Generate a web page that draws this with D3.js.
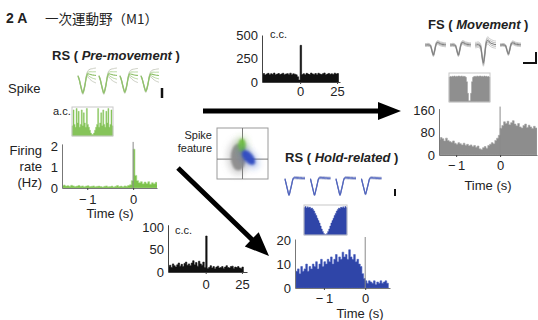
<!DOCTYPE html>
<html>
<head>
<meta charset="utf-8">
<script src="https://cdn.jsdelivr.net/npm/d3@7"></script>
<style>
  body { margin: 0; background: #fff; }
  svg { display: block; font-family: "Liberation Sans", Arial, sans-serif; }
</style>
</head>
<body>
<svg id="fig" width="538" height="320"></svg>
<script>
// ---- data ----
const binSec = 0.04;

// RS (pre-movement) PSTH, Hz, bins of 40 ms from -1.6 s
const premoveStart = -1.6;
const premoveRate = [
  0.12, 0.10, 0.14, 0.09, 0.11, 0.08, 0.13, 0.10, 0.07, 0.09,
  0.12, 0.08, 0.10, 0.06, 0.09, 0.11, 0.07, 0.08, 0.10, 0.06,
  0.08, 0.09, 0.07, 0.05, 0.08, 0.10, 0.06, 0.07, 0.09, 0.05,
  0.08, 0.12, 0.07, 0.09, 0.06, 0.10, 0.08, 0.12, 0.15, 0.35,
  1.85, 0.60, 0.35, 0.25, 0.30, 0.20, 0.28, 0.22, 0.30, 0.18,
  0.25, 0.20, 0.27, 0.15
];

// FS (movement) PSTH, bins of 40 ms from -1.4 s
const fsStart = -1.4;
const fsRate = [
  55, 62, 58, 50, 60, 52, 48, 45, 50, 42,
  38, 44, 40, 36, 42, 35, 38, 33, 36, 30,
  34, 28, 32, 22, 20, 26, 30, 24, 34, 38,
  44, 40, 52, 60, 70, 95, 105, 118, 112, 120,
  108, 115, 122, 110, 104, 112, 100, 96, 105, 110,
  98, 106, 100, 94, 102, 96
];

// RS (hold-related) PSTH, bins of 40 ms from -1.68 s
const holdStart = -1.68;
const holdRate = [
  7, 8, 6, 9, 7, 8, 10, 7, 9, 8,
  10, 9, 11, 8, 10, 12, 9, 11, 10, 12,
  11, 13, 10, 12, 14, 11, 13, 12, 15, 13,
  14, 12, 16, 13, 12, 14, 11, 12, 10, 9,
  6, 4, 3, 2, 3, 2.5, 2, 3, 1.5, 2.5,
  2, 3, 2, 2.5, 3, 2
];

// cross-correlograms, counts per 1 ms bin from -26 ms
const ccStart = -26;
const ccTopCounts = [
  80, 90, 75, 85, 92, 78, 88, 82, 95, 76, 84, 90, 79, 86, 93, 77, 85, 89, 81, 94, 78, 87, 83, 76, 55, 20,
  390, 80, 88, 76, 92, 84, 79, 95, 86, 81, 90, 77, 93, 85, 80, 88, 96, 78, 84, 91, 82, 87, 79, 94, 86, 90
];
const ccBottomCounts = [
  12, 15, 10, 18, 14, 11, 16, 20, 13, 17, 12, 19, 22, 15, 18, 14, 20, 25, 16, 21, 13, 24, 18, 15, 22, 10,
  80, 8, 10, 14, 9, 12, 7, 11, 13, 9, 10, 12, 8, 11, 14, 10, 9, 12, 13, 8, 11, 10, 12, 9, 8, 11
];

// auto-correlograms (normalised)
const acPremove = [
  0.35, 0.90, 0.40, 0.30, 0.95, 0.45, 0.85, 0.30, 0.40, 0.90,
  0.35, 0.80, 0.45, 0.30, 0.95, 0.40, 0.30, 0.20, 0.10, 0.05,
  0.05, 0.10, 0.20, 0.30, 0.40, 0.95, 0.30, 0.45, 0.80, 0.35,
  0.90, 0.40, 0.30, 0.85, 0.45, 0.95, 0.30, 0.40, 0.90, 0.35
];
const acFs = [
  0.86, 0.88, 0.87, 0.89, 0.88, 0.90, 0.87, 0.89, 0.88, 0.90,
  0.89, 0.88, 0.90, 0.87, 0.89, 0.88, 0.85, 0.70, 0.30, 0.04,
  0.04, 0.30, 0.70, 0.85, 0.88, 0.89, 0.87, 0.90, 0.88, 0.89,
  0.90, 0.88, 0.89, 0.87, 0.90, 0.88, 0.89, 0.87, 0.88, 0.86
];
const acHold = [
  0.92, 0.95, 0.90, 0.94, 0.91, 0.93, 0.88, 0.90, 0.85, 0.80,
  0.72, 0.65, 0.56, 0.48, 0.40, 0.30, 0.20, 0.12, 0.05, 0.02,
  0.02, 0.05, 0.12, 0.20, 0.30, 0.40, 0.48, 0.56, 0.65, 0.72,
  0.80, 0.85, 0.90, 0.88, 0.93, 0.91, 0.94, 0.90, 0.95, 0.92
];

// tetrode waveforms: mean shape, spread, and per-channel size
const wfPremoveMean = [0.0, -0.2, -0.5, -0.8, -1.0, -0.8, -0.45, -0.05, 0.12, 0.12, 0.10, 0.08, 0.06, 0.05, 0.04, 0.03];
const wfPremoveSpread = [0.04, 0.05, 0.06, 0.07, 0.08, 0.08, 0.08, 0.10, 0.16, 0.24, 0.30, 0.34, 0.37, 0.40, 0.42, 0.44];
const wfPremoveAmp = [1.0, 1.0, 0.95, 0.9];
const wfFsMean = [0.0, 0.0, 0.02, 0.0, -0.1, -0.6, -1.0, -0.5, 0.1, 0.25, 0.2, 0.12, 0.08, 0.05, 0.03, 0.02];
const wfFsSpread = [0.15, 0.15, 0.15, 0.15, 0.15, 0.15, 0.18, 0.18, 0.18, 0.2, 0.2, 0.2, 0.2, 0.2, 0.2, 0.2];
const wfFsAmp = [0.55, 0.55, 1.0, 0.5];
const wfHoldMean = [0.0, -0.35, -0.7, -1.0, -0.7, -0.35, 0.0, 0.08, 0.08, 0.07, 0.07, 0.06, 0.06, 0.05, 0.05, 0.05];
const wfHoldSpread = [0.05, 0.05, 0.05, 0.06, 0.06, 0.06, 0.06, 0.07, 0.07, 0.07, 0.07, 0.07, 0.07, 0.07, 0.07, 0.07];
const wfHoldAmp = [1.0, 1.0, 1.0, 0.95];

// spike feature clusters (feature space -1..1)
const clusterNames = ['other', 'premove', 'hold'];
const clusterX = [-0.16, -0.02, 0.24];
const clusterY = [-0.14, 0.33, -0.16];
const clusterRx = [0.30, 0.14, 0.34];
const clusterRy = [0.52, 0.26, 0.18];
const clusterAngle = [0, 0, 50];
const clusterColor = ['#8c8c8c', '#72c043', '#2f4cc2'];

// ticks
const timeTicks = [-1, 0];
const ccTicks = [0, 25];
const premoveYTicks = [0, 1, 2];
const fsYTicks = [0, 80, 160];
const holdYTicks = [0, 10, 20];
const ccTopYTicks = [0, 250, 500];
const ccBottomYTicks = [0, 50, 100];

// ---- drawing ----
const svg = d3.select('#fig');
const fmt = d => d < 0 ? '\u2212\u2009' + (-d) : String(d);
let clipId = 0;

function text(x, y, str, size, opts = {}) {
  return svg.append('text')
    .attr('x', x).attr('y', y)
    .attr('font-size', size)
    .attr('font-weight', opts.bold ? 'bold' : null)
    .attr('text-anchor', opts.anchor || 'start')
    .attr('fill', '#222')
    .text(str);
}

function title(x, y, name, italicPart) {
  const t = svg.append('text').attr('x', x).attr('y', y)
    .attr('font-size', 13).attr('font-weight', 'bold').attr('fill', '#222');
  t.append('tspan').text(name + ' ( ');
  t.append('tspan').attr('font-style', 'italic').text(italicPart);
  t.append('tspan').text(' )');
}

function hist(cfg) {
  const g = svg.append('g');
  const x = d3.scaleLinear().domain(cfg.xDomain).range(cfg.xRange);
  const y = d3.scaleLinear().domain(cfg.yDomain).range(cfg.yRange);
  const pts = cfg.values.map((v, i) => [cfg.start + i * cfg.bin, v]);
  pts.push([cfg.start + cfg.values.length * cfg.bin, 0]);

  const id = 'clip' + (clipId++);
  svg.append('clipPath').attr('id', id).append('rect')
    .attr('x', cfg.xRange[0]).attr('y', cfg.yRange[1] - 5)
    .attr('width', cfg.xRange[1] - cfg.xRange[0])
    .attr('height', cfg.yRange[0] - cfg.yRange[1] + 5);

  const area = d3.area().curve(d3.curveStepAfter)
    .x(d => x(d[0])).y0(y(0)).y1(d => y(d[1]));
  g.append('path').datum(pts)
    .attr('clip-path', `url(#${id})`)
    .attr('d', area)
    .attr('fill', cfg.color)
    .attr('stroke', cfg.edge || cfg.color)
    .attr('stroke-width', 0.6);

  if (cfg.marker) {
    g.append('line')
      .attr('x1', x(0)).attr('x2', x(0))
      .attr('y1', cfg.yRange[1] - 2).attr('y2', y(0))
      .attr('stroke', '#8a8a8a').attr('stroke-width', 1);
  }

  const xa = g.append('g').attr('transform', `translate(0,${y(0)})`)
    .call(d3.axisBottom(x).tickValues(cfg.xTicks).tickSize(2).tickSizeOuter(0)
      .tickPadding(cfg.xPad || 4).tickFormat(fmt));
  const ya = g.append('g').attr('transform', `translate(${cfg.xRange[0]},0)`)
    .call(d3.axisLeft(y).tickValues(cfg.yTicks).tickSize(0).tickSizeOuter(0)
      .tickPadding(4).tickFormat(fmt));
  [xa, ya].forEach(a => {
    a.select('.domain').attr('stroke', cfg.axisColor || '#444').attr('stroke-width', 1);
    a.selectAll('.tick line').attr('stroke', '#444');
    a.selectAll('text').attr('font-size', 13).attr('fill', '#222')
      .attr('font-family', '"Liberation Sans", Arial, sans-serif');
  });
  return { x, y };
}

function acBox(values, x0, y0, w, h, color) {
  const x = d3.scaleLinear().domain([0, values.length]).range([x0, x0 + w]);
  const y = d3.scaleLinear().domain([0, 1]).range([y0 + h, y0]);
  const pts = values.map((v, i) => [i, v]);
  pts.push([values.length, values[values.length - 1]]);
  svg.append('path').datum(pts)
    .attr('d', d3.area().curve(d3.curveStepAfter).x(d => x(d[0])).y0(y(0)).y1(d => y(d[1])))
    .attr('fill', color).attr('stroke', color).attr('stroke-width', 0.4);
  svg.append('rect').attr('x', x0).attr('y', y0).attr('width', w).attr('height', h)
    .attr('fill', 'none').attr('stroke', '#c8c8c8').attr('stroke-width', 1);
}

function waves(mean, spread, amps, x0, pitch, w, baseY, ampPx, colors, curve) {
  const ks = [-1, 1, -0.5, 0.5, 0];
  amps.forEach((a, c) => {
    const x = d3.scaleLinear().domain([0, mean.length - 1]).range([x0 + c * pitch, x0 + c * pitch + w]);
    const y = d3.scaleLinear().domain([-1, 0]).range([baseY + ampPx * a, baseY]);
    ks.forEach((k, j) => {
      const line = d3.line().curve(curve || d3.curveCatmullRom)
        .x((d, i) => x(i)).y((d, i) => y(d + k * spread[i]));
      svg.append('path').datum(mean)
        .attr('d', line).attr('fill', 'none')
        .attr('stroke', colors[Math.min(j >> 1, 2)])
        .attr('stroke-width', j === 4 ? 1.1 : 0.9);
    });
  });
}

function arrow(x1, y1, x2, y2, shaft, headLen, headHalf) {
  const dx = x2 - x1, dy = y2 - y1, L = Math.hypot(dx, dy);
  const ux = dx / L, uy = dy / L, nx = -uy, ny = ux;
  const bx = x2 - ux * headLen, by = y2 - uy * headLen;
  const s = shaft / 2;
  const p = [
    [x1 + nx * s, y1 + ny * s], [bx + nx * s, by + ny * s], [bx + nx * headHalf, by + ny * headHalf],
    [x2, y2],
    [bx - nx * headHalf, by - ny * headHalf], [bx - nx * s, by - ny * s], [x1 - nx * s, y1 - ny * s]
  ];
  svg.append('path').attr('d', d3.line()(p) + 'Z').attr('fill', '#000');
}

// headers
text(6, 23, '2 A', 14, { bold: true });
svg.append('text').attr('x', 45).attr('y', 24).attr('font-size', 13.5)
  .attr('font-family', '"Noto Sans CJK JP", sans-serif').attr('fill', '#222')
  .text('一次運動野（M1）');

// ---- RS pre-movement ----
title(52, 60, 'RS', 'Pre-movement');
text(8, 93, 'Spike', 13);
waves(wfPremoveMean, wfPremoveSpread, wfPremoveAmp, 78, 21, 18, 76, 17,
  ['#c4c7ba', '#aed293', '#8fc06a']);
svg.append('line').attr('x1', 162).attr('x2', 162).attr('y1', 88).attr('y2', 98)
  .attr('stroke', '#111').attr('stroke-width', 2.5);
text(53, 115, 'a.c.', 11);
acBox(acPremove, 72, 107, 41, 29, '#86c45a');
text(42, 155, 'Firing', 13, { anchor: 'end' });
text(42, 171, 'rate', 13, { anchor: 'end' });
text(42, 187, '(Hz)', 13, { anchor: 'end' });
hist({
  values: premoveRate, start: premoveStart, bin: binSec,
  xDomain: [-1.55, 0.52], xRange: [62, 157],
  yDomain: [0, 2.1], yRange: [188, 143.9],
  xTicks: timeTicks, yTicks: premoveYTicks,
  color: '#7cc24a', edge: '#a8d98a', marker: true, axisColor: '#777', xPad: 5
});
text(110, 218, 'Time (s)', 13, { anchor: 'middle' });

// ---- top cross-correlogram ----
hist({
  values: ccTopCounts, start: ccStart, bin: 1,
  xDomain: [-25.8, 27], xRange: [262, 340],
  yDomain: [0, 500], yRange: [82, 35],
  xTicks: ccTicks, yTicks: ccTopYTicks,
  color: '#111', xPad: 3
});
text(270, 38, 'c.c.', 11);

// ---- arrows ----
arrow(203, 111, 401, 111, 5, 23, 9);
arrow(178, 168, 269, 256, 5, 24, 10);

// ---- spike feature ----
text(212, 139, 'Spike', 11, { anchor: 'end' });
text(212, 152, 'feature', 11, { anchor: 'end' });
const fx = d3.scaleLinear().domain([-1, 1]).range([217, 268]);
const fy = d3.scaleLinear().domain([-1, 1]).range([179, 128]);
const blur = svg.append('filter').attr('id', 'blur').attr('x', '-50%').attr('y', '-50%')
  .attr('width', '200%').attr('height', '200%');
blur.append('feGaussianBlur').attr('stdDeviation', 1.3);
const halo = svg.append('filter').attr('id', 'halo').attr('x', '-50%').attr('y', '-50%')
  .attr('width', '200%').attr('height', '200%');
halo.append('feGaussianBlur').attr('stdDeviation', 3);
svg.append('rect').attr('x', fx(-1)).attr('y', fy(1))
  .attr('width', fx(1) - fx(-1)).attr('height', fy(-1) - fy(1))
  .attr('fill', '#fff').attr('stroke', '#9a9a9a').attr('stroke-width', 1);
svg.append('line').attr('x1', fx(0)).attr('x2', fx(0)).attr('y1', fy(1)).attr('y2', fy(-1))
  .attr('stroke', '#7a7a7a').attr('stroke-width', 1);
svg.append('line').attr('x1', fx(-1)).attr('x2', fx(1)).attr('y1', fy(-0.22)).attr('y2', fy(-0.22))
  .attr('stroke', '#7a7a7a').attr('stroke-width', 1);
clusterNames.forEach((n, i) => {
  const rx = fx(clusterRx[i]) - fx(0), ry = fy(0) - fy(clusterRy[i]);
  const tr = `translate(${fx(clusterX[i])},${fy(clusterY[i])}) rotate(${clusterAngle[i]})`;
  svg.append('ellipse').attr('transform', tr)
    .attr('rx', rx * 1.5).attr('ry', ry * 1.35)
    .attr('fill', clusterColor[i]).attr('fill-opacity', 0.35)
    .attr('filter', 'url(#halo)');
  svg.append('ellipse').attr('transform', tr)
    .attr('rx', rx).attr('ry', ry)
    .attr('fill', clusterColor[i]).attr('fill-opacity', 0.95)
    .attr('filter', 'url(#blur)');
});

// ---- RS hold-related ----
title(285, 162, 'RS', 'Hold-related');
waves(wfHoldMean, wfHoldSpread, wfHoldAmp, 285, 25.5, 20, 179, 16,
  ['#b4bad4', '#8e9ad0', '#4d62bd'], d3.curveMonotoneX);
svg.append('line').attr('x1', 395).attr('x2', 395).attr('y1', 189).attr('y2', 196)
  .attr('stroke', '#111').attr('stroke-width', 2);
acBox(acHold, 304, 205, 43, 30, '#2f45a8');
hist({
  values: holdRate, start: holdStart, bin: binSec,
  xDomain: [-1.7, 0.6], xRange: [295, 390],
  yDomain: [0, 20.5], yRange: [288, 239],
  xTicks: timeTicks, yTicks: holdYTicks,
  color: '#2f45a8', edge: '#4a5fbf', marker: true, axisColor: '#777', xPad: 4
});
text(360, 318, 'Time (s)', 13, { anchor: 'middle' });

// ---- bottom cross-correlogram ----
hist({
  values: ccBottomCounts, start: ccStart, bin: 1,
  xDomain: [-26, 28.5], xRange: [168, 247],
  yDomain: [0, 105], yRange: [272, 224.75],
  xTicks: ccTicks, yTicks: ccBottomYTicks,
  color: '#111', xPad: 6
});
text(175, 234, 'c.c.', 11);

// ---- FS movement ----
title(428, 29, 'FS', 'Movement');
waves(wfFsMean, wfFsSpread, wfFsAmp, 425, 25, 21, 45, 18,
  ['#c4c4c4', '#a8a8a8', '#808080']);
svg.append('path').attr('d', 'M536,52V63H523').attr('fill', 'none')
  .attr('stroke', '#111').attr('stroke-width', 2);
acBox(acFs, 449, 73, 41, 29, '#8f8f8f');
hist({
  values: fsRate, start: fsStart, bin: binSec,
  xDomain: [-1.39, 0.84], xRange: [439, 537],
  yDomain: [0, 165], yRange: [155, 108.6],
  xTicks: timeTicks, yTicks: fsYTicks,
  color: '#8d8d8d', edge: '#a5a5a5', marker: true, axisColor: '#777', xPad: 4
});
text(488, 190, 'Time (s)', 13, { anchor: 'middle' });
</script>
</body>
</html>
